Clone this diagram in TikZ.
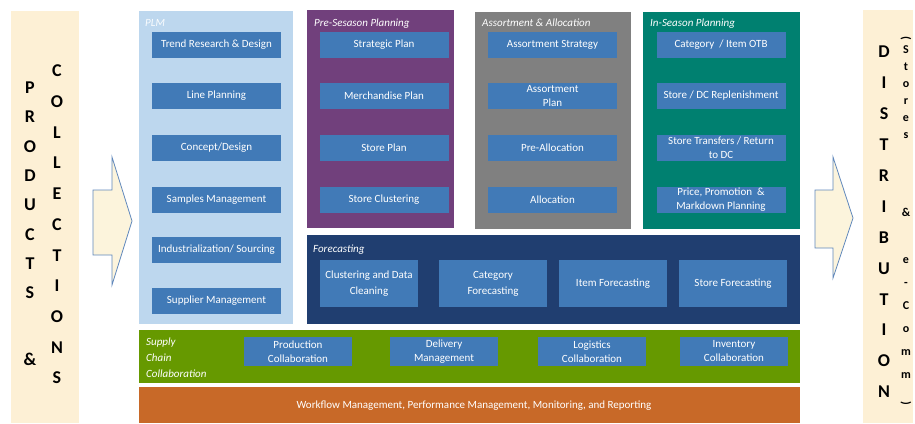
\documentclass[tikz,border=0pt]{standalone}
\usepackage{fontspec}
\setmainfont{Carlito}

\definecolor{tanbg}{RGB}{253,240,213}
\definecolor{arrowfill}{RGB}{252,244,220}
\definecolor{arrowline}{RGB}{96,136,188}
\definecolor{plmblue}{RGB}{189,215,238}
\definecolor{taskblue}{RGB}{65,122,183}
\definecolor{preplum}{RGB}{113,64,124}
\definecolor{assortgray}{RGB}{128,128,128}
\definecolor{inseasonteal}{RGB}{0,128,112}
\definecolor{forecastnavy}{RGB}{32,62,112}
\definecolor{supplygreen}{RGB}{102,153,0}
\definecolor{workorange}{RGB}{200,105,40}

\tikzset{
	task/.style={fill=taskblue, text=white, align=center, inner sep=0pt,
		font=\fontsize{11}{14}\selectfont},
	coltask/.style={task, minimum width=129pt, minimum height=26pt},
	fctask/.style={task, minimum width=#1, minimum height=47pt, font=\fontsize{11}{16}\selectfont},
	sctask/.style={task, minimum width=108pt, minimum height=29pt},
	head/.style={anchor=base west, text=white, inner sep=0pt,
		font=\fontsize{11}{16}\selectfont\itshape},
	bigcol/.style={align=center, inner sep=0pt, font=\fontsize{18}{#1}\selectfont\bfseries},
	smallcol/.style={align=center, inner sep=0pt, font=\fontsize{12}{#1}\selectfont\bfseries},
	flowarrow/.style={draw=arrowline, fill=arrowfill, line width=0.8pt, line join=miter},
}

\begin{document}
\begin{tikzpicture}[x=1pt, y=-1pt]

	\useasboundingbox (0,0) rectangle (915,423);

	% side panels
	\fill[tanbg] (11,11) rectangle (79,423);
	\fill[tanbg] (863,10) rectangle (913,423);
	\node[bigcol=29.3] (products) at (30,224) {P\\R\\O\\D\\U\\C\\T\\S\\[38pt]\&};
	\node[bigcol=30.7] (collections) at (57,224.5) {C\\O\\L\\L\\E\\C\\T\\I\\O\\N\\S};
	\node[bigcol=30.9] (distribution) at (884,222) {D\\I\\S\\T\\R\\I\\B\\U\\T\\I\\O\\N};
	\node[smallcol=17] (stores) at (906,88) {\rotatebox{-90}{(}\\S\\t\\o\\r\\e\\s};
	\node[smallcol=23] (ecomm) at (906,307) {\&\\[24pt]e\\-\\C\\o\\m\\m\\\rotatebox{-90}{)}};

	% arrows
	\draw[flowarrow] (93,190) -- (112,190) -- (112,157) -- (132,221) -- (112,285) -- (112,255) -- (93,255) -- cycle;
	\draw[flowarrow] (815,190) -- (833,190) -- (833,157) -- (853,218) -- (833,278) -- (833,248) -- (815,248) -- cycle;

	% PLM
	\fill[plmblue] (139,11) rectangle (293,324);
	\node[head, text=white!92!plmblue] (plm) at (145,26) {PLM};
	\node[coltask] (trend) at (216.5,45) {Trend Research \& Design};
	\node[coltask] (line) at (216.5,96) {Line Planning};
	\node[coltask] (concept) at (216.5,148) {Concept/Design};
	\node[coltask] (samples) at (216.5,200) {Samples Management};
	\node[coltask] (sourcing) at (216.5,250) {Industrialization/ Sourcing};
	\node[coltask] (supplier) at (216.5,301) {Supplier Management};

	% Pre-season planning
	\fill[preplum] (307,10) rectangle (454,228);
	\node[head] (preseason) at (314,26) {Pre-Sesason Planning};
	\node[coltask] (strategic) at (384,45) {Strategic Plan};
	\node[coltask] (merch) at (384,96) {Merchandise Plan};
	\node[coltask] (storeplan) at (384,148) {Store Plan};
	\node[coltask] (clustering) at (384,200) {Store Clustering};

	% Assortment & allocation
	\fill[assortgray] (475,12) rectangle (631,229);
	\node[head] (assortment) at (482,27) {Assortment \& Allocation};
	\node[coltask] (astrategy) at (552.5,45) {Assortment Strategy};
	\node[coltask] (aplan) at (552.5,96) {Assortment\\Plan};
	\node[coltask] (prealloc) at (552.5,148) {Pre-Allocation};
	\node[coltask] (alloc) at (552.5,200) {Allocation};

	% In-season planning
	\fill[inseasonteal] (643,12) rectangle (800,229);
	\node[head] (inseason) at (650,27) {In-Season Planning};
	\node[coltask] (otb) at (721,45) {Category~ / Item OTB};
	\node[coltask] (replen) at (721,96) {Store / DC Replenishment};
	\node[coltask] (transfers) at (721,148) {Store Transfers / Return\\to DC};
	\node[coltask] (markdown) at (721,200) {Price, Promotion~ \&\\Markdown Planning};

	% Forecasting
	\fill[forecastnavy] (307,235) rectangle (800,324);
	\node[head] (forecasting) at (313,252) {Forecasting};
	\node[fctask=98pt] (cleaning) at (369,283.5) {Clustering and Data\\Cleaning};
	\node[fctask=108pt] (catfc) at (493,283.5) {Category\\Forecasting};
	\node[fctask=108pt] (itemfc) at (613,283.5) {Item Forecasting};
	\node[fctask=108pt] (storefc) at (733,283.5) {Store Forecasting};

	% Supply chain collaboration
	\fill[supplygreen] (139,330) rectangle (800,383);
	\node[head, anchor=west, align=left] (supplychain) at (146,358) {Supply\\Chain\\Collaboration};
	\node[sctask] (production) at (298,351.5) {Production\\Collaboration};
	\node[sctask] (delivery) at (444,351.5) {Delivery\\Management};
	\node[sctask] (logistics) at (592,351.5) {Logistics\\Collaboration};
	\node[sctask] (inventory) at (734,351.5) {Inventory\\Collaboration};

	% Workflow
	\fill[workorange] (139,387) rectangle (800,423);
	\node[text=white, font=\fontsize{11}{14}\selectfont] (workflow) at (474,406) {Workflow Management, Performance Management, Monitoring, and Reporting};

\end{tikzpicture}
\end{document}
